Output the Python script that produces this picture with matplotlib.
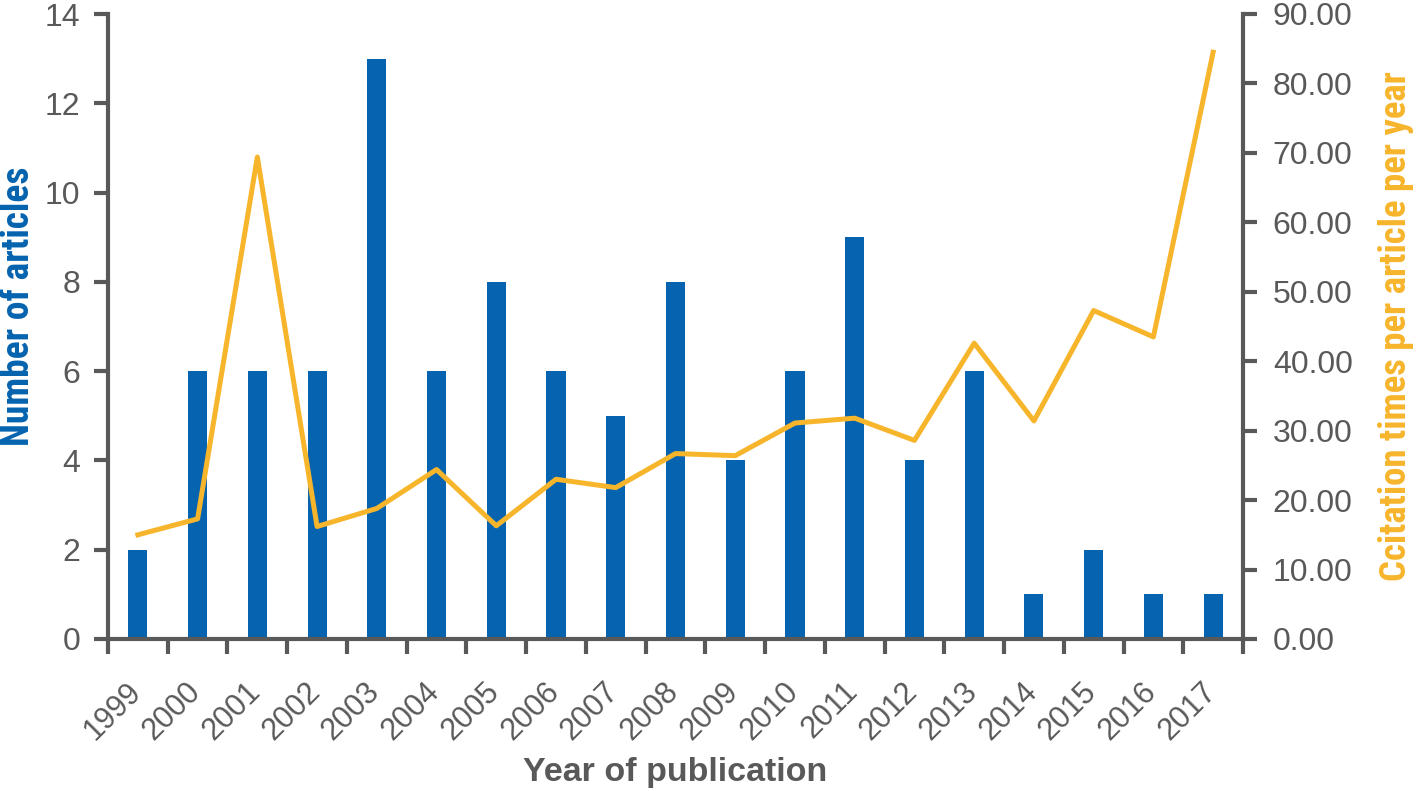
import matplotlib
matplotlib.use("Agg")
import matplotlib.pyplot as plt
import matplotlib.transforms as mtransforms
from matplotlib.ticker import FormatStrFormatter, FixedLocator

years = ["1999", "2000", "2001", "2002", "2003", "2004", "2005", "2006", "2007", "2008",
         "2009", "2010", "2011", "2012", "2013", "2014", "2015", "2016", "2017"]
articles = [2, 6, 6, 6, 13, 6, 8, 6, 5, 8, 4, 6, 9, 4, 6, 1, 2, 1, 1]
citations = [15.0, 17.3, 69.4, 16.2, 18.8, 24.4, 16.3, 23.0, 21.8, 26.7,
             26.4, 31.1, 31.8, 28.6, 42.6, 31.4, 47.3, 43.5, 84.5]

plt.rcParams['font.family'] = ['Liberation Sans', 'DejaVu Sans']
NARROW = ['Liberation Sans Narrow', 'Roboto Condensed', 'Open Sans Condensed', 'Liberation Sans']

GRAY = "#595959"
BLUE = "#0563AF"
GOLD = "#F7B52C"

L, R, T, B = 108, 1243, 14, 639
fig = plt.figure(figsize=(14.18, 7.91), dpi=100)
ax = fig.add_axes([L/1418, 1-B/791, (R-L)/1418, (B-T)/791])
ax2 = ax.twinx()

x = list(range(len(years)))
ax.bar(x, articles, width=0.32, color=BLUE, zorder=2)
ax2.plot(x, citations, color=GOLD, lw=3.6, solid_joinstyle='round', zorder=3)

ax.set_xlim(-0.5, len(years) - 0.5)
ax.set_ylim(0, 14)
ax2.set_ylim(0, 90)
ax.set_yticks(range(0, 15, 2))
ax2.set_yticks(range(0, 91, 10))
ax2.yaxis.set_major_formatter(FormatStrFormatter('%.2f'))

ax.set_xticks(x)
ax.set_xticklabels(years, rotation=45, ha='right', va='top', rotation_mode='anchor')
ax.tick_params(axis='x', which='major', length=0, pad=27, labelsize=22, labelcolor=GRAY)
ax.xaxis.set_minor_locator(FixedLocator([i - 0.5 for i in range(len(years) + 1)]))
ax.tick_params(axis='x', which='minor', length=11, width=3, color=GRAY, direction='out')
offset = mtransforms.ScaledTranslation(-12/100, 0, fig.dpi_scale_trans)
for t in ax.get_xticklabels():
    t.set_transform(t.get_transform() + offset)

ax.tick_params(axis='y', length=10, width=3, color=GRAY, labelsize=23, labelcolor=GRAY, pad=10)
ax2.tick_params(axis='y', length=10, width=3, color=GRAY, labelsize=23, labelcolor=GRAY, pad=11.5)

for a in (ax, ax2):
    a.spines['top'].set_visible(False)
    for s in ('left', 'right', 'bottom'):
        a.spines[s].set_color(GRAY)
        a.spines[s].set_linewidth(3)
ax.spines['right'].set_visible(False)
ax2.spines['left'].set_visible(False)
ax2.spines['bottom'].set_visible(False)

ax.set_ylabel("Number of articles", color=BLUE, fontsize=27, fontweight='bold',
              family=NARROW)
ax.yaxis.set_label_coords((37 - L) / (R - L), (B - 306) / (B - T))
ax2.set_ylabel("Ccitation times per article per year", color=GOLD, fontsize=26.5,
               fontweight='bold', family=NARROW, rotation=90)
ax2.yaxis.set_label_coords((1378 - L) / (R - L), (B - 326) / (B - T))
ax.set_xlabel("Year of publication", color=GRAY, fontsize=24.5, fontweight='bold', labelpad=8)

fig.savefig("out.png", dpi=100)
